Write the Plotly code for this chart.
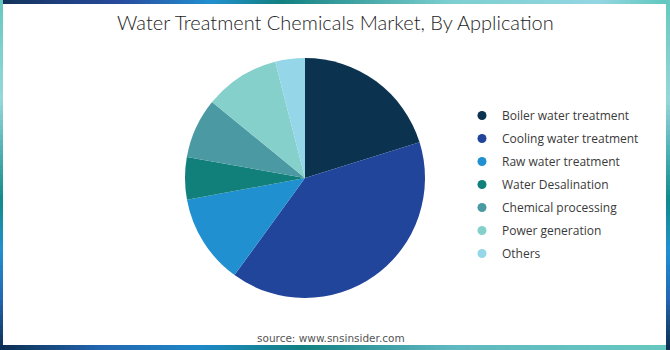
import plotly.graph_objects as go

# ---- data ----
labels = ["Boiler water treatment", "Cooling water treatment", "Raw water treatment",
          "Water Desalination", "Chemical processing", "Power generation", "Others"]
values = [20.2, 39.8, 12.1, 5.7, 8.1, 10.1, 4.0]
colors = ["#0b3350", "#22459c", "#2190d0", "#11807b", "#4a99a3", "#86d0cc", "#95d6e8"]
title_text = "Water Treatment Chemicals Market, By Application"
source_text = "source: www.snsinsider.com"

W, H = 670, 350

fig = go.Figure()
fig.add_trace(go.Pie(
    labels=labels, values=values, sort=False, direction="clockwise", rotation=0,
    marker=dict(colors=colors, line=dict(width=0)),
    textinfo="none", hoverinfo="label+percent", showlegend=False,
    domain=dict(x=[185 / W, 425 / W], y=[1 - 298 / H, 1 - 58 / H]),
))
# legend entries with circle symbols
for i, (lab, col) in enumerate(zip(labels, colors)):
    fig.add_trace(go.Scatter(
        x=[None], y=[None], mode="markers", name=lab, legendgroup=f"g{i}",
        marker=dict(symbol="circle", size=9, color=col), hoverinfo="skip",
    ))


def hex2rgb(h):
    h = h.lstrip("#")
    return tuple(int(h[i:i + 2], 16) for i in (0, 2, 4))


def interp(stops, t):
    for (t0, c0), (t1, c1) in zip(stops[:-1], stops[1:]):
        if t0 <= t <= t1:
            f = 0 if t1 == t0 else (t - t0) / (t1 - t0)
            a, b = hex2rgb(c0), hex2rgb(c1)
            return "rgb(%d,%d,%d)" % tuple(round(a[k] + (b[k] - a[k]) * f) for k in range(3))
    return stops[-1][1]


top_stops = [(0, "#13335a"), (120, "#284a9e"), (210, "#2290d0"), (280, "#118080"),
             (450, "#7ccfd0"), (600, "#93d6e2"), (670, "#5cc6bc")]
side_stops = [(0, "#66c8c0"), (100, "#95d8dc"), (200, "#118a8a"), (250, "#2290d0"),
              (300, "#2266b0"), (350, "#0b2d50")]
bot_stops = [(0, "#0b2d50"), (100, "#2266b0"), (200, "#1e88c8"), (300, "#118080"),
             (450, "#5fb8c0"), (670, "#66c8c0")]

shapes = []
step = 5


def rect(x0, x1, y0, y1, col):
    shapes.append(dict(type="rect", xref="paper", yref="paper",
                       x0=x0 / W, x1=x1 / W, y0=1 - y1 / H, y1=1 - y0 / H,
                       fillcolor=col, line=dict(width=0), layer="above"))


for x in range(0, W, step):
    rect(x, x + step, 0, 4, interp(top_stops, x + step / 2))
    rect(x, x + step, 345, 350, interp(bot_stops, x + step / 2))
for y in range(0, H, step):
    c = interp(side_stops, y + step / 2)
    rect(0, 3, y, y + step, c)
    rect(666, 670, y, y + step, c)

fig.update_layout(
    width=W, height=H, margin=dict(l=0, r=0, t=0, b=0),
    paper_bgcolor="white", plot_bgcolor="white",
    xaxis=dict(visible=False), yaxis=dict(visible=False),
    shapes=shapes,
    showlegend=True,
    legend=dict(x=462 / W, y=1 - 101 / H, xanchor="left", yanchor="top",
                font=dict(family="Open Sans", size=12, color="#3a3a3a"),
                tracegroupgap=4, bgcolor="rgba(0,0,0,0)"),
    annotations=[
        dict(text=title_text, x=0.5, y=1 - 22 / H, xref="paper", yref="paper",
             showarrow=False, xanchor="center", yanchor="middle",
             font=dict(family="Lato", size=20, weight=300, color="#1e1e1e")),
        dict(text=source_text, x=331 / W, y=1 - 338 / H, xref="paper", yref="paper",
             showarrow=False, xanchor="center", yanchor="middle",
             font=dict(family="DejaVu Sans", size=10.5, color="#555555")),
    ],
)

fig.write_html("out.html")
